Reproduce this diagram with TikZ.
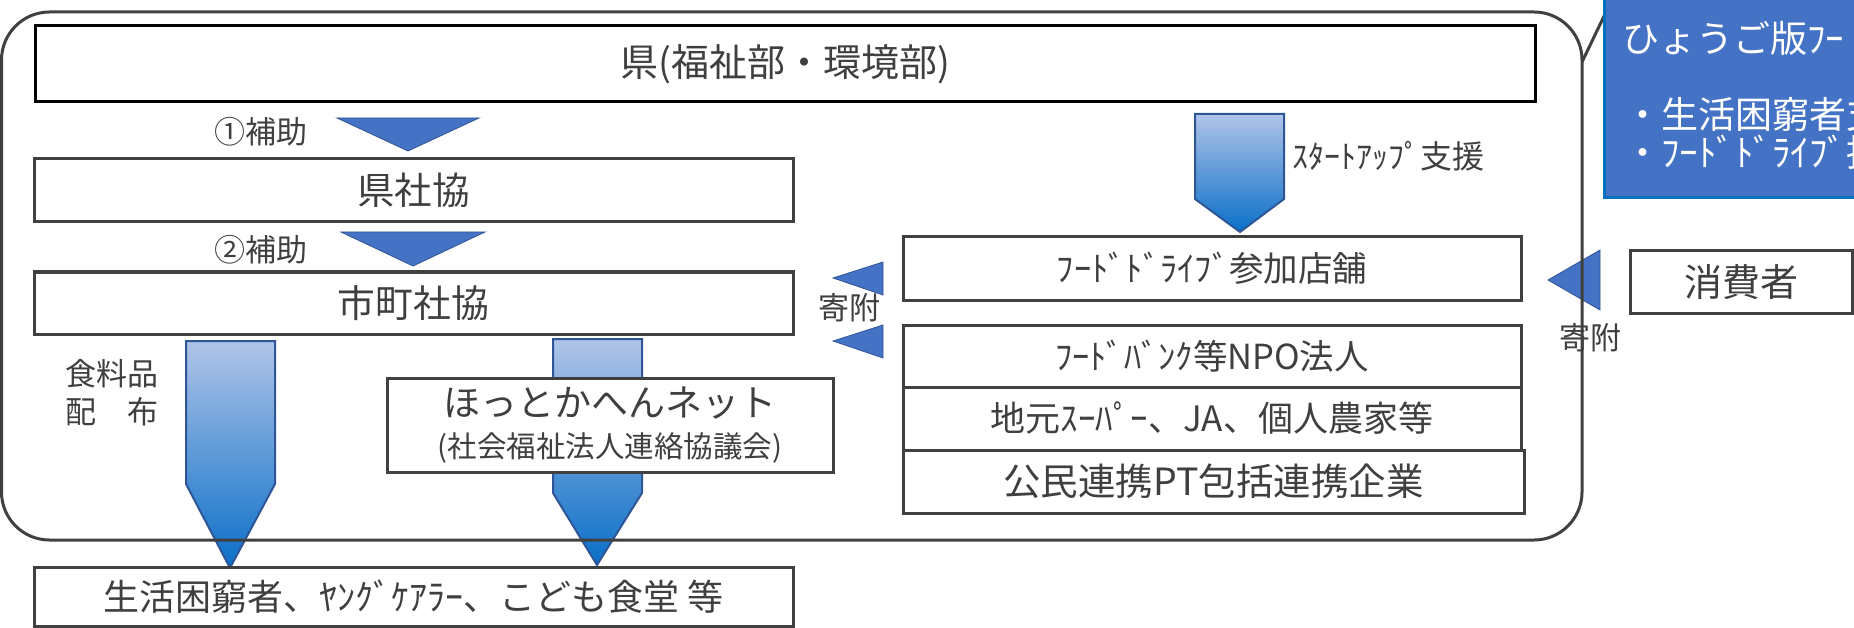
\documentclass[tikz,border=0pt]{standalone}
\usepackage{fontspec}
\setmainfont{Noto Sans CJK JP}
\definecolor{tx}{HTML}{3F3F3F}
\definecolor{edge}{HTML}{404040}
\definecolor{triblue}{HTML}{4472C4}
\definecolor{triedge}{HTML}{2F5597}
\definecolor{arrtop}{HTML}{B0C4E8}
\definecolor{arrbot}{HTML}{0A6FC8}
\definecolor{callblue}{HTML}{4472C4}
\definecolor{calledge}{HTML}{0070C0}
\newcommand{\fs}[1]{\fontsize{#1}{#1}\selectfont}
\begin{document}
\begin{tikzpicture}[x=1pt,y=-1pt,
  box/.style={draw=edge, line width=3pt, fill=white, inner sep=0pt, text=tx,
    font=\fontsize{37.5}{40}\selectfont},
  tri/.style={fill=triblue, draw=triedge, line width=0.8pt},
  barrow/.style={top color=arrtop, bottom color=arrbot, draw=triedge, line width=2pt, line join=miter},
  lbl/.style={text=tx, inner sep=0pt, font=\fontsize{31}{38}\selectfont},
  wtxt/.style={text=white, inner sep=0pt, anchor=west, font=\fontsize{37}{40}\selectfont}]
\useasboundingbox (0,0) rectangle (1854,628);

% block arrows
\path[barrow] (1195,114) -- (1284,114) -- (1284,199) -- (1240,232) -- (1195,199) -- cycle;
\path[barrow] (186,341) -- (275,341) -- (275,484) -- (230,568) -- (186,484) -- cycle;
\path[barrow] (553,339) -- (642,339) -- (642,493) -- (597,565) -- (553,493) -- cycle;

% triangles
\path[tri] (337,118) -- (479,118) -- (408,151) -- cycle;
\path[tri] (341,232) -- (485,232) -- (413,266) -- cycle;
\path[tri] (833,278) -- (883,262) -- (883,295) -- cycle;
\path[tri] (833,341) -- (883,325) -- (883,358) -- cycle;
\path[tri] (1548,280) -- (1600,250) -- (1600,310) -- cycle;

% boxes
\node[box, draw=black, minimum width=1500pt, minimum height=76pt, font=\fs{38}] (pref) at (785,64) {県(福祉部・環境部)};
\node[box, minimum width=759pt, minimum height=63pt] (ken) at (413.5,190.5) {県社協};
\node[box, minimum width=759pt, minimum height=62pt, font=\fs{37.8}] (shicho) at (413.5,303) {市町社協};
\node[box, minimum width=759pt, minimum height=59pt, font=\fs{36}] (target) at (413.5,596.5) {生活困窮者、ﾔﾝｸﾞｹｱﾗｰ、こども食堂 等};
\node[box, minimum width=618pt, minimum height=63pt, font=\fs{34.5}] (fd) at (1212,268.5) {ﾌｰﾄﾞﾄﾞﾗｲﾌﾞ参加店舗};
\node[box, minimum width=618pt, minimum height=62pt, font=\fs{34.5}] (npo) at (1212,356) {ﾌｰﾄﾞﾊﾞﾝｸ等NPO法人};
\node[box, minimum width=618pt, minimum height=63pt, font=\fs{35}] (jimoto) at (1212,418.5) {地元ｽｰﾊﾟｰ、JA、個人農家等};
\node[box, minimum width=621pt, minimum height=63pt] (komin) at (1213.5,481.5) {公民連携PT包括連携企業};
\node[box, minimum width=446pt, minimum height=94pt, align=center, font=\fontsize{37}{41}\selectfont] (hotto) at (610,425)
  {ほっとかへんネット\\{\fontsize{29.5}{41}\selectfont (社会福祉法人連絡協議会)}};
\node[box, minimum width=222pt, minimum height=62pt, font=\fs{38}] (cons) at (1741,282) {消費者};

% labels
\node[lbl] (h1) at (261,132) {①補助};
\node[lbl] (h2) at (261,250) {②補助};
\node[lbl, align=left] (food) at (112,393) {食料品\\配　布};
\node[lbl] (k1) at (849,308) {寄附};
\node[lbl] (k2) at (1590,338) {寄附};
\node[lbl, anchor=west, font=\fs{32}] (su) at (1292,156) {ｽﾀｰﾄｱｯﾌﾟ支援};

% outer rounded frame
\draw[edge, line width=3pt, rounded corners=48pt] (1.5,12) rectangle (1582,540);
\draw[edge, line width=3pt] (1582,62) -- (1606,12);

% callout box
\fill[callblue] (1603,-5) rectangle (1860,198);
\draw[calledge, line width=3pt] (1604.5,-5) -- (1604.5,197.5) -- (1860,197.5);
\node[wtxt] (c1) at (1622,38) {ひょうご版ﾌｰ};
\node[wtxt] (c2) at (1624,114) {・生活困窮者支援};
\node[wtxt] (c3) at (1624,152) {・ﾌｰﾄﾞﾄﾞﾗｲﾌﾞ推進};
\end{tikzpicture}
\end{document}
